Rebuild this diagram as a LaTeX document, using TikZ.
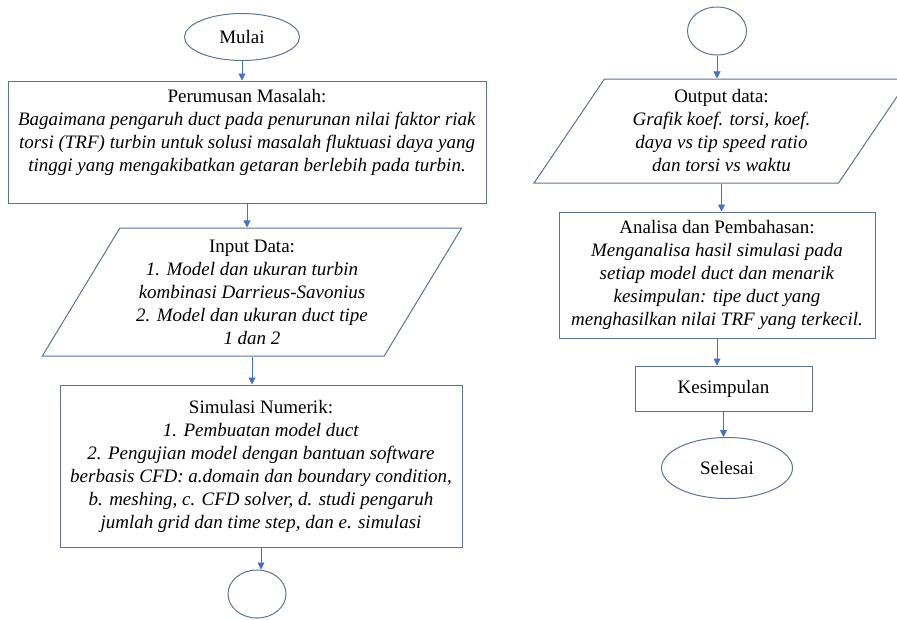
\documentclass[tikz,border=0pt]{standalone}
\usepackage{fontspec}
\setmainfont{Liberation Serif}
\usetikzlibrary{shapes.geometric,arrows.meta}
\definecolor{edge}{RGB}{95,115,145}
\definecolor{arrowblue}{RGB}{68,114,196}
\begin{document}
\begin{tikzpicture}[x=1pt,y=-1pt,
  every node/.style={font=\fontsize{19}{23}\selectfont},
  box/.style={draw=edge,line width=1pt,rectangle,align=center,inner sep=0pt},
  term/.style={draw=edge,line width=1pt,ellipse,inner sep=0pt},
  io/.style={draw=edge,line width=1pt,trapezium,trapezium left angle=57,trapezium right angle=123,
    trapezium stretches=true,align=center,inner sep=0pt},
  arr/.style={draw=arrowblue,line width=0.9pt,-{Triangle[width=7pt,length=7pt]}}]
\useasboundingbox (0,0) rectangle (897,619);
% kolom kiri
\node[term,minimum width=115,minimum height=47] (mulai) at (242,37) {Mulai};
\node[box,minimum width=478,minimum height=122] (rumusan) at (247,142)
  {Perumusan Masalah:\\
  \textit{Bagaimana pengaruh duct pada penurunan nilai faktor riak}\\
  \textit{torsi (TRF) turbin untuk solusi masalah fluktuasi daya yang}\\
  \textit{tinggi yang mengakibatkan getaran berlebih pada turbin.}\\ ~};
\node[io,minimum width=420,minimum height=128] (input) at (252,292)
  {Input Data:\\
  \textit{1. Model dan ukuran turbin}\\
  \textit{kombinasi Darrieus-Savonius}\\
  \textit{2. Model dan ukuran duct tipe}\\
  \textit{1 dan 2}};
\node[box,minimum width=402,minimum height=162] (simulasi) at (261,466)
  {Simulasi Numerik:\\
  \textit{1. Pembuatan model duct}\\
  \textit{2. Pengujian model dengan bantuan software}\\
  \textit{berbasis CFD: a.domain dan boundary condition,}\\
  \textit{b. meshing, c. CFD solver, d. studi pengaruh}\\
  \textit{jumlah grid dan time step, dan e. simulasi}};
\node[term,minimum width=58,minimum height=48] (konA) at (257,594) {};
% kolom kanan
\node[term,minimum width=59,minimum height=48] (konB) at (717,31) {};
\node[io,minimum width=375,minimum height=104] (output) at (721.5,131)
  {Output data:\\
  \textit{Grafik koef. torsi, koef.}\\
  \textit{daya vs tip speed ratio}\\
  \textit{dan torsi vs waktu}};
\node[box,minimum width=316,minimum height=126] (analisa) at (717,275)
  {Analisa dan Pembahasan:\\
  \textit{Menganalisa hasil simulasi pada}\\
  \textit{setiap model duct dan menarik}\\
  \textit{kesimpulan: tipe duct yang}\\
  \textit{menghasilkan nilai TRF yang terkecil.}};
\node[box,minimum width=177,minimum height=45] (kesimpulan) at (723.5,388.5) {Kesimpulan};
\node[term,minimum width=131,minimum height=61] (selesai) at (727,468) {Selesai};
% panah
\draw[arr] (mulai.south) -- (mulai.south |- rumusan.north);
\draw[arr] (rumusan.south) -- (rumusan.south |- input.north);
\draw[arr] (input.south) -- (input.south |- simulasi.north);
\draw[arr] (simulasi.south) -- (simulasi.south |- konA.north);
\draw[arr] (konB.south) -- (konB.south |- output.north);
\draw[arr] (output.south) -- (output.south |- analisa.north);
\draw[arr] (analisa.south) -- (analisa.south |- kesimpulan.north);
\draw[arr] (kesimpulan.south) -- (kesimpulan.south |- selesai.north);
\end{tikzpicture}
\end{document}
